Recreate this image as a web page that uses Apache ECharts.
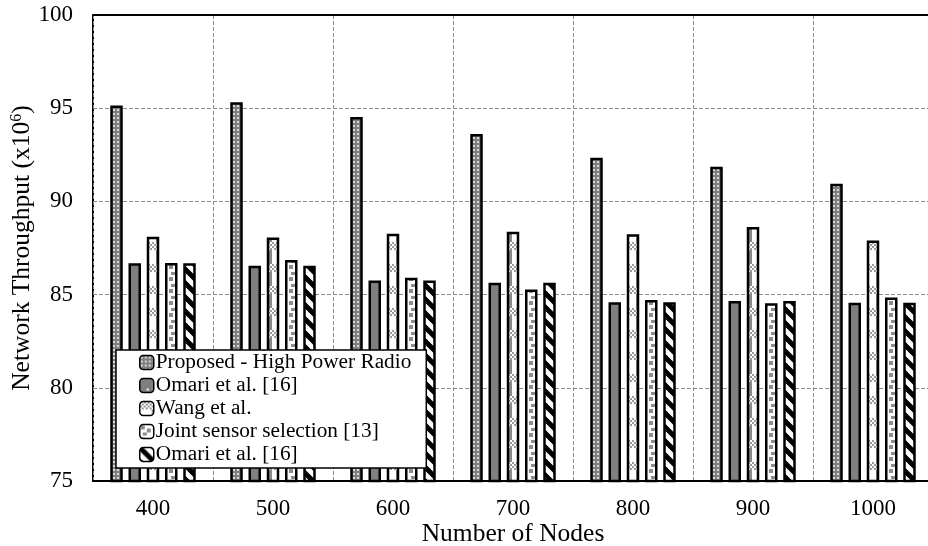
<!DOCTYPE html>
<html>
<head>
<meta charset="utf-8">
<script src="https://cdn.jsdelivr.net/npm/echarts@6/dist/echarts.min.js"></script>
<style>
html,body{margin:0;padding:0;background:#fff;}
#chart{width:928px;height:546px;}
</style>
</head>
<body>
<div id="chart"></div>
<script>
var categories = ['400', '500', '600', '700', '800', '900', '1000'];
var seriesNames = ['Proposed - High Power Radio', 'Omari et al. [16]', 'Wang et al.', 'Joint sensor selection [13]', 'Omari et al. [16]'];
var proposed = [95.15, 95.32, 94.53, 93.62, 92.34, 91.86, 90.95];
var omari = [86.68, 86.55, 85.76, 85.64, 84.59, 84.66, 84.56];
var wang = [88.10, 88.06, 88.26, 88.37, 88.24, 88.62, 87.90];
var joint = [86.70, 86.86, 85.90, 85.27, 84.71, 84.53, 84.85];
var omari2 = [86.68, 86.55, 85.76, 85.64, 84.59, 84.66, 84.56];
var yTicks = [75, 80, 85, 90, 95, 100];

function makeTile(w, h, draw) {
  var c = document.createElement('canvas');
  c.width = w; c.height = h;
  var ctx = c.getContext('2d');
  draw(ctx);
  return c;
}
var pat1 = makeTile(4, 4, function (ctx) {
  ctx.fillStyle = '#7f7f7f'; ctx.fillRect(0, 0, 4, 4);
  ctx.fillStyle = '#d9d9d9'; ctx.fillRect(1, 1, 2, 2);
});
var pat2 = makeTile(15, 21, function (ctx) {
  ctx.fillStyle = '#7f7f7f'; ctx.fillRect(0, 0, 15, 21);
  ctx.fillStyle = '#ffffff'; ctx.fillRect(7, 10, 2, 2);
});
var pat3 = makeTile(16, 22, function (ctx) {
  ctx.fillStyle = '#ffffff'; ctx.fillRect(0, 0, 16, 22);
  ctx.fillStyle = '#9a9a9a';
  for (var y = 0; y < 8; y += 2) {
    for (var x = 0; x < 16; x += 2) {
      if (((x + y) / 2) % 2 === 0) ctx.fillRect(x, y, 2, 2);
    }
  }
  ctx.fillStyle = '#8a8a8a'; ctx.fillRect(12, 8, 4, 14);
});
var pat4 = makeTile(12, 12, function (ctx) {
  ctx.fillStyle = '#ffffff'; ctx.fillRect(0, 0, 12, 12);
  ctx.fillStyle = '#8c8c8c';
  ctx.fillRect(1, 1, 4, 4);
  ctx.fillRect(7, 4, 4, 4);
  ctx.fillRect(3, 8, 4, 3);
});
var pat5 = makeTile(14, 14, function (ctx) {
  ctx.fillStyle = '#ffffff'; ctx.fillRect(0, 0, 14, 14);
  ctx.strokeStyle = '#000000'; ctx.lineWidth = 5;
  ctx.beginPath();
  for (var k = -2; k <= 2; k++) {
    ctx.moveTo(k * 14 - 2, -2);
    ctx.lineTo(k * 14 + 16, 16);
  }
  ctx.stroke();
});
var patterns = [pat1, pat2, pat3, pat4, pat5];
var dataSets = [proposed, omari, wang, joint, omari2];
var seriesIds = dataSets.map(function (d, i) { return 's' + i; });

var serif = '"Liberation Serif", "DejaVu Serif", serif';
var chart = echarts.init(document.getElementById('chart'), null, {renderer: 'canvas'});

var series = dataSets.map(function (d, i) {
  var s = {
    name: seriesIds[i],
    type: 'bar',
    data: d,
    barWidth: 12.5,
    barGap: '46%',
    itemStyle: {
      color: {image: patterns[i], repeat: 'repeat'},
      borderColor: '#000',
      borderWidth: 2.5
    },
    emphasis: {disabled: true}
  };
  if (i === 0) {
    s.markLine = {
      silent: true,
      symbol: 'none',
      label: {show: false},
      lineStyle: {color: '#000', type: 'solid', width: 2},
      data: [{yAxis: 100}]
    };
  }
  return s;
});

chart.setOption({
  animation: false,
  backgroundColor: '#fff',
  textStyle: {fontFamily: serif, color: '#000'},
  grid: {left: 93, right: -5, top: 15, bottom: 65, show: false, containLabel: false, outerBoundsMode: 'none'},
  legend: {
    orient: 'vertical',
    left: 116,
    top: 350,
    backgroundColor: '#fff',
    borderColor: '#000',
    borderWidth: 1.5,
    padding: [1, 15, 2, 23],
    itemGap: 0,
    itemWidth: 14,
    itemHeight: 14,
    selectedMode: false,
    data: seriesIds.map(function (n, i) {
      return {
        name: n,
        itemStyle: {color: {image: patterns[i], repeat: 'repeat'}, borderColor: '#000', borderWidth: 1.5}
      };
    }),
    formatter: function (id) { return seriesNames[seriesIds.indexOf(id)]; },
    textStyle: {fontFamily: serif, fontSize: 21.3, color: '#000', lineHeight: 23, padding: [0, 0, 0, -3]},
    z: 10
  },
  tooltip: {show: false},
  xAxis: [{
    type: 'category',
    data: categories,
    name: 'Number of Nodes',
    nameLocation: 'middle',
    nameGap: 40,
    nameMoveOverlap: false,
    nameTextStyle: {fontFamily: serif, fontSize: 25.5, color: '#000'},
    axisLine: {show: true, lineStyle: {color: '#000', width: 2}},
    axisTick: {show: false},
    axisLabel: {fontFamily: serif, fontSize: 23, color: '#000', margin: 16},
    splitLine: {show: true, lineStyle: {color: '#8c8c8c', type: [4, 2], width: 1}},
    z: 1
  }],
  yAxis: [{
    type: 'value',
    min: 75,
    max: 100,
    interval: 5,
    name: 'Network Throughput (x10{sup|6})',
    nameLocation: 'middle',
    nameGap: 58,
    nameMoveOverlap: false,
    nameTextStyle: {fontFamily: serif, fontSize: 25.5, color: '#000',
      rich: {sup: {fontFamily: serif, fontSize: 16, color: '#000', verticalAlign: 'top', padding: [0, 0, 9, 0]}}},
    axisLine: {show: true, lineStyle: {color: '#000', width: 2}},
    axisTick: {show: false},
    axisLabel: {fontFamily: serif, fontSize: 23, color: '#000', margin: 20,
      formatter: function (v) { return yTicks.indexOf(v) >= 0 ? String(v) : ''; }},
    splitLine: {show: true, lineStyle: {color: '#8c8c8c', type: [4, 2], width: 1}}
  }],
  series: series
});
</script>
</body>
</html>
